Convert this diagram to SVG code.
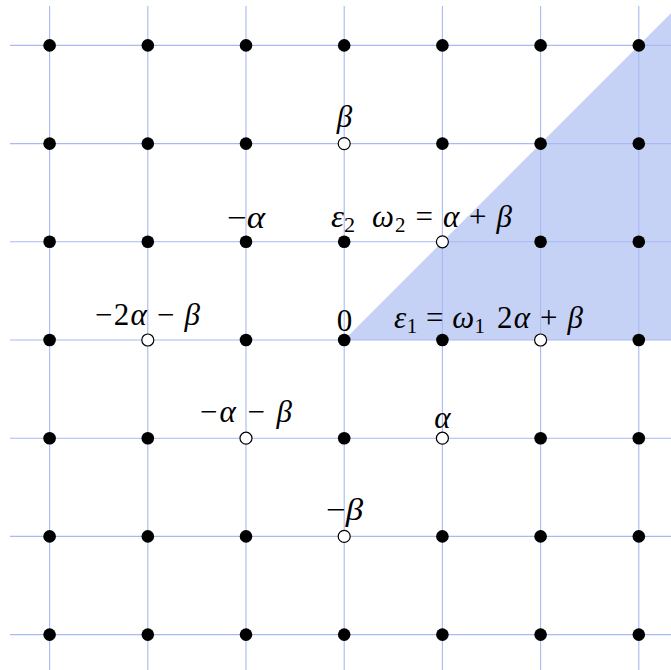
<svg xmlns="http://www.w3.org/2000/svg" width="671" height="670" viewBox="0 0 671 670">
<style>
.grid line{stroke:#a9b9f2;stroke-width:1.1}
.dot{fill:#000}
.open{fill:#fff;stroke:#000;stroke-width:1.2}
text{font-size:31px;fill:#000}
.i{font-style:italic}
.sub{font-size:21px}
</style>
<rect width="671" height="670" fill="#fff"/>
<polygon points="344.2,340 680,4.2 680,340" fill="#c6d2f5"/>
<g id="connectors" class="grid">
<line x1="49.6" y1="6" x2="49.6" y2="670"/>
<line x1="147.8" y1="6" x2="147.8" y2="670"/>
<line x1="246" y1="6" x2="246" y2="670"/>
<line x1="344.2" y1="6" x2="344.2" y2="670"/>
<line x1="442.4" y1="6" x2="442.4" y2="670"/>
<line x1="540.6" y1="6" x2="540.6" y2="670"/>
<line x1="638.8" y1="6" x2="638.8" y2="670"/>
<line x1="10" y1="45.4" x2="671" y2="45.4"/>
<line x1="10" y1="143.6" x2="671" y2="143.6"/>
<line x1="10" y1="241.8" x2="671" y2="241.8"/>
<line x1="10" y1="340" x2="671" y2="340"/>
<line x1="10" y1="438.2" x2="671" y2="438.2"/>
<line x1="10" y1="536.4" x2="671" y2="536.4"/>
<line x1="10" y1="634.6" x2="671" y2="634.6"/>
</g>
<g id="nodes" font-family="Liberation Serif, Times New Roman, serif">
<g id="n_m3_3"><circle class="dot" cx="49.6" cy="45.4" r="6.3"/></g>
<g id="n_m2_3"><circle class="dot" cx="147.8" cy="45.4" r="6.3"/></g>
<g id="n_m1_3"><circle class="dot" cx="246" cy="45.4" r="6.3"/></g>
<g id="n_0_3"><circle class="dot" cx="344.2" cy="45.4" r="6.3"/></g>
<g id="n_1_3"><circle class="dot" cx="442.4" cy="45.4" r="6.3"/></g>
<g id="n_2_3"><circle class="dot" cx="540.6" cy="45.4" r="6.3"/></g>
<g id="n_3_3"><circle class="dot" cx="638.8" cy="45.4" r="6.3"/></g>

<g id="n_m3_2"><circle class="dot" cx="49.6" cy="143.6" r="6.3"/></g>
<g id="n_m2_2"><circle class="dot" cx="147.8" cy="143.6" r="6.3"/></g>
<g id="n_m1_2"><circle class="dot" cx="246" cy="143.6" r="6.3"/></g>
<g id="n_beta"><circle class="open" cx="344.2" cy="143.6" r="6"/><text class="i" x="344.5" y="127" text-anchor="middle">β</text></g>
<g id="n_1_2"><circle class="dot" cx="442.4" cy="143.6" r="6.3"/></g>
<g id="n_2_2"><circle class="dot" cx="540.6" cy="143.6" r="6.3"/></g>
<g id="n_3_2"><circle class="dot" cx="638.8" cy="143.6" r="6.3"/></g>

<g id="n_m3_1"><circle class="dot" cx="49.6" cy="241.8" r="6.3"/></g>
<g id="n_m2_1"><circle class="dot" cx="147.8" cy="241.8" r="6.3"/></g>
<g id="n_malpha"><circle class="dot" cx="246" cy="241.8" r="6.3"/><text x="227" y="228" textLength="38" lengthAdjust="spacingAndGlyphs">−<tspan class="i">α</tspan></text></g>
<g id="n_eps2"><circle class="dot" cx="344.2" cy="241.8" r="6.3"/><text x="331" y="227" textLength="24" lengthAdjust="spacingAndGlyphs"><tspan class="i">ε</tspan><tspan class="sub" dy="5">2</tspan></text></g>
<g id="n_omega2"><circle class="open" cx="442.4" cy="241.8" r="6"/><text x="372" y="227" textLength="140" lengthAdjust="spacing"><tspan class="i">ω</tspan><tspan class="sub" dy="5">2</tspan><tspan dy="-5"> = </tspan><tspan class="i">α</tspan> + <tspan class="i">β</tspan></text></g>
<g id="n_2_1"><circle class="dot" cx="540.6" cy="241.8" r="6.3"/></g>
<g id="n_3_1"><circle class="dot" cx="638.8" cy="241.8" r="6.3"/></g>

<g id="n_m3_0"><circle class="dot" cx="49.6" cy="340" r="6.3"/></g>
<g id="n_m2a_mb"><circle class="open" cx="147.8" cy="340" r="6"/><text x="95" y="325" textLength="105" lengthAdjust="spacing">−2<tspan class="i">α</tspan> − <tspan class="i">β</tspan></text></g>
<g id="n_m1_0"><circle class="dot" cx="246" cy="340" r="6.3"/></g>
<g id="n_zero"><circle class="dot" cx="344.2" cy="340" r="6.3"/><text x="344.5" y="331" text-anchor="middle">0</text></g>
<g id="n_eps1"><circle class="dot" cx="442.4" cy="340" r="6.3"/><text x="394" y="328" textLength="91" lengthAdjust="spacing"><tspan class="i">ε</tspan><tspan class="sub" dy="5">1</tspan><tspan dy="-5"> = </tspan><tspan class="i">ω</tspan><tspan class="sub" dy="5">1</tspan></text></g>
<g id="n_2a_b"><circle class="open" cx="540.6" cy="340" r="6"/><text x="497" y="328" textLength="86" lengthAdjust="spacing">2<tspan class="i">α</tspan> + <tspan class="i">β</tspan></text></g>
<g id="n_3_0"><circle class="dot" cx="638.8" cy="340" r="6.3"/></g>

<g id="n_m3_m1"><circle class="dot" cx="49.6" cy="438.2" r="6.3"/></g>
<g id="n_m2_m1"><circle class="dot" cx="147.8" cy="438.2" r="6.3"/></g>
<g id="n_ma_mb"><circle class="open" cx="246" cy="438.2" r="6"/><text x="200" y="422" textLength="92" lengthAdjust="spacing">−<tspan class="i">α</tspan> − <tspan class="i">β</tspan></text></g>
<g id="n_0_m1"><circle class="dot" cx="344.2" cy="438.2" r="6.3"/></g>
<g id="n_alpha"><circle class="open" cx="442.4" cy="438.2" r="6"/><text class="i" x="442.5" y="428" text-anchor="middle">α</text></g>
<g id="n_2_m1"><circle class="dot" cx="540.6" cy="438.2" r="6.3"/></g>
<g id="n_3_m1"><circle class="dot" cx="638.8" cy="438.2" r="6.3"/></g>

<g id="n_m3_m2"><circle class="dot" cx="49.6" cy="536.4" r="6.3"/></g>
<g id="n_m2_m2"><circle class="dot" cx="147.8" cy="536.4" r="6.3"/></g>
<g id="n_m1_m2"><circle class="dot" cx="246" cy="536.4" r="6.3"/></g>
<g id="n_mbeta"><circle class="open" cx="344.2" cy="536.4" r="6"/><text x="326" y="520" textLength="37" lengthAdjust="spacingAndGlyphs">−<tspan class="i">β</tspan></text></g>
<g id="n_1_m2"><circle class="dot" cx="442.4" cy="536.4" r="6.3"/></g>
<g id="n_2_m2"><circle class="dot" cx="540.6" cy="536.4" r="6.3"/></g>
<g id="n_3_m2"><circle class="dot" cx="638.8" cy="536.4" r="6.3"/></g>

<g id="n_m3_m3"><circle class="dot" cx="49.6" cy="634.6" r="6.3"/></g>
<g id="n_m2_m3"><circle class="dot" cx="147.8" cy="634.6" r="6.3"/></g>
<g id="n_m1_m3"><circle class="dot" cx="246" cy="634.6" r="6.3"/></g>
<g id="n_0_m3"><circle class="dot" cx="344.2" cy="634.6" r="6.3"/></g>
<g id="n_1_m3"><circle class="dot" cx="442.4" cy="634.6" r="6.3"/></g>
<g id="n_2_m3"><circle class="dot" cx="540.6" cy="634.6" r="6.3"/></g>
<g id="n_3_m3"><circle class="dot" cx="638.8" cy="634.6" r="6.3"/></g>
</g>
</svg>
